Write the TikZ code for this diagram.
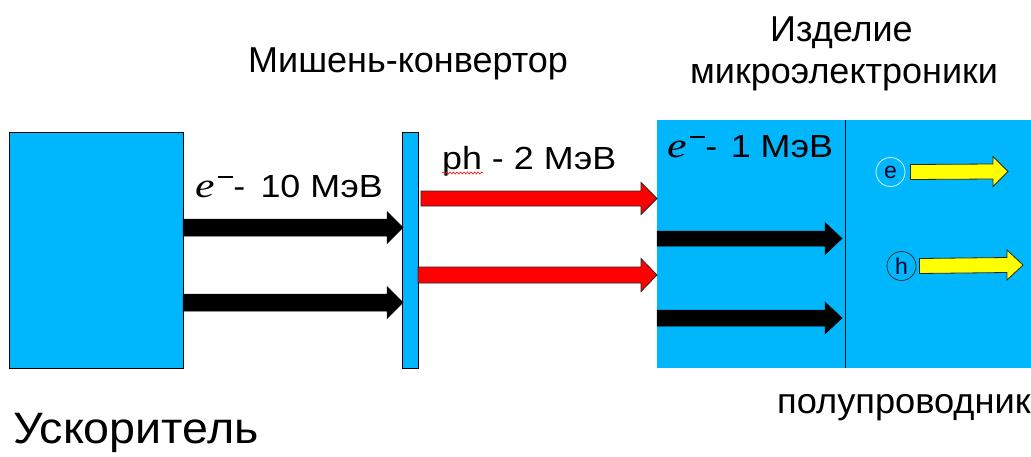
\documentclass[tikz,border=0pt]{standalone}
\usepackage{graphicx}
\usepackage{fontspec}
\setmainfont{Liberation Sans}
\newfontfamily\serifit{Liberation Serif}[UprightFont=*-Italic]
\usetikzlibrary{decorations.pathmorphing}

\definecolor{beamcyan}{RGB}{0,182,252}
\definecolor{photonred}{RGB}{255,0,0}
\definecolor{carrieryellow}{RGB}{255,255,0}
\definecolor{edgedark}{RGB}{40,40,40}

% electron symbol: italic e with a superscript minus
\newcommand\elsym{\scalebox{1.12}[1]{\fontsize{35}{38}\selectfont\serifit e}\kern0.1em\raisebox{0.6em}{\rule{0.42em}{0.06em}}}
% energy label, set a little wider than the plain font
\newcommand\energytext[1]{\scalebox{1.12}[1]{\fontsize{32}{36}\selectfont #1}}

% block arrow: start coordinate, tip coordinate, shaft half width, head half width, head length
\newcommand\blockarrow[6][]{%
  \path (#2) coordinate (ba-s) (#3) coordinate (ba-t);
  \draw[#1] ([yshift=-#4]ba-s) -- ([xshift=-#6,yshift=-#4]ba-t)
    -- ([xshift=-#6,yshift=-#5]ba-t) -- (ba-t)
    -- ([xshift=-#6,yshift=#5]ba-t) -- ([xshift=-#6,yshift=#4]ba-t)
    -- ([yshift=#4]ba-s) -- cycle;}

\tikzset{
  box/.style={fill=beamcyan, draw=black, line width=0.8pt},
  electron/.style={fill=black, draw=black, line width=0.5pt},
  photon/.style={fill=photonred, draw=edgedark, line width=0.8pt},
  carrier/.style={fill=carrieryellow, draw=edgedark, line width=0.8pt},
  caption/.style={anchor=base west, inner sep=0pt, font=\fontsize{36}{40}\selectfont},
  energy/.style={anchor=base west, inner sep=0pt},
  particle/.style={circle, minimum size=29pt, inner sep=0pt, fill=beamcyan,
    font=\fontsize{23}{25}\selectfont, text=black!85!blue}
}

\begin{document}
\begin{tikzpicture}[x=1pt, y=-1pt]
\useasboundingbox (0,0) rectangle (1031,456);

% accelerator, converter target and semiconductor device
\node[box, anchor=north west, minimum width=174pt, minimum height=236pt, inner sep=0pt] (acc) at (9,132) {};
\node[box, anchor=north west, minimum width=16pt, minimum height=236pt, inner sep=0pt] (target) at (402,132) {};
\fill[beamcyan] (657,120) rectangle (1031,368);
\coordinate (junction-top) at (845,120);
\coordinate (junction-bottom) at (845,368);
\draw[black, line width=0.9pt] (junction-top) -- (junction-bottom);

% electron beam from the accelerator to the target
\coordinate (e1s) at (183,227.5); \coordinate (e1t) at (403,227.5);
\coordinate (e2s) at (183,302.5); \coordinate (e2t) at (403,302.5);
\blockarrow[electron]{e1s}{e1t}{8.5pt}{16pt}{16pt}
\blockarrow[electron]{e2s}{e2t}{8.5pt}{16pt}{16pt}

% bremsstrahlung photons from the target to the device
\coordinate (p1s) at (421,198.5); \coordinate (p1t) at (657,198.5);
\coordinate (p2s) at (418,275); \coordinate (p2t) at (657,275);
\blockarrow[photon]{p1s}{p1t}{7.5pt}{16pt}{16pt}
\blockarrow[photon]{p2s}{p2t}{8pt}{16.5pt}{16pt}

% secondary electrons inside the device
\coordinate (s1s) at (657,238.5); \coordinate (s1t) at (842,238.5);
\coordinate (s2s) at (657,318); \coordinate (s2t) at (842,318);
\blockarrow[electron]{s1s}{s1t}{7.5pt}{16pt}{17pt}
\blockarrow[electron]{s2s}{s2t}{8pt}{16pt}{17pt}

% charge carriers in the semiconductor
\node[particle, draw=white!85!beamcyan, line width=0.8pt] (ce) at (890.5,172) {e};
\node[particle, draw=black!80, line width=0.8pt] (ch) at (901.5,266) {h};
\coordinate (ye-s) at ([xshift=5pt]ce.east);
\coordinate (yh-s) at ([xshift=3pt]ch.east);
\coordinate (ye-t) at (1008,171.5);
\coordinate (yh-t) at (1023,265);
\blockarrow[carrier]{ye-s}{ye-t}{7.5pt}{15pt}{15pt}
\blockarrow[carrier]{yh-s}{yh-t}{7.5pt}{15pt}{16pt}

% labels
\node[caption] (l-target) at (248,72) {Мишень-конвертор};
\node[caption] (l-dev1) at (770,41) {Изделие};
\node[caption] (l-dev2) at (690,83) {микроэлектроники};
\node[caption] (l-acc) at (13,443) {\scalebox{1.06}[1]{\fontsize{44}{46}\selectfont Ускоритель}};
\node[caption] (l-semi) at (777,413) {\scalebox{1.02}[1]{\fontsize{35.5}{38}\selectfont полупроводник}};
\node[energy] (l-e10) at (195,197) {\energytext{\elsym-\hspace{0.15em} 10 МэВ}};
\node[energy] (l-ph) at (442,169) {\energytext{ph - 2 МэВ}};
\node[energy] (l-e1) at (667,157) {\energytext{\elsym-\hspace{0.1em} 1 МэВ}};
\draw[red, line width=0.6pt, decorate,
  decoration={snake, amplitude=1pt, segment length=3.5pt}]
  ([yshift=-4pt]l-ph.base west) -- ++(41,0);
\end{tikzpicture}
\end{document}
